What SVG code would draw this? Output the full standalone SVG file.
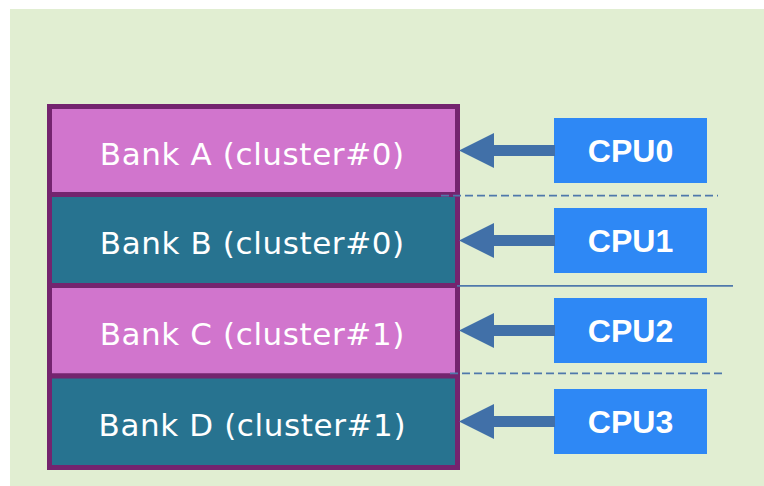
<svg xmlns="http://www.w3.org/2000/svg" width="764" height="486" viewBox="0 0 764 486">
  <style>
    .bank { stroke: #74246f; stroke-width: 5; }
    .bank-even { fill: #d175cd; }
    .bank-odd { fill: #277390; }
    .bank-label { font-family: "DejaVu Sans", Verdana, sans-serif; font-size: 31px; letter-spacing: 0.6px; fill: #ffffff; text-anchor: middle; }
    .cpu { fill: #2e88f5; }
    .cpu-label { font-family: "Liberation Sans", Arial, sans-serif; font-weight: bold; font-size: 32px; fill: #ffffff; text-anchor: middle; }
    .arrow { fill: #4170a8; }
    .sep { stroke: #4f78ab; stroke-width: 1.7; fill: none; }
    .sep-dash { stroke-dasharray: 8 4; }
  </style>

  <!-- backdrop -->
  <rect x="10" y="9" width="754" height="477" fill="#e1eed2"/>

  <!-- memory banks -->
  <g id="bank-a">
    <rect class="bank bank-even" x="49.5" y="106.5" width="408" height="88"/>
    <text class="bank-label" x="252.3" y="164.5">Bank A (cluster#0)</text>
  </g>
  <g id="bank-b">
    <rect class="bank bank-odd" x="49.5" y="194.5" width="408" height="91"/>
    <text class="bank-label" x="252.3" y="254">Bank B (cluster#0)</text>
  </g>
  <g id="bank-c">
    <rect class="bank bank-even" x="49.5" y="285.5" width="408" height="90.5"/>
    <text class="bank-label" x="252.3" y="344.5">Bank C (cluster#1)</text>
  </g>
  <g id="bank-d">
    <rect class="bank bank-odd" x="49.5" y="376" width="408" height="91.5"/>
    <text class="bank-label" x="252.3" y="436">Bank D (cluster#1)</text>
  </g>

  <!-- processors -->
  <g id="cpu0">
    <rect class="cpu" x="554" y="118" width="153" height="65"/>
    <text class="cpu-label" x="630.5" y="161.7">CPU0</text>
  </g>
  <g id="cpu1">
    <rect class="cpu" x="554" y="208" width="153" height="65"/>
    <text class="cpu-label" x="630.5" y="251.7">CPU1</text>
  </g>
  <g id="cpu2">
    <rect class="cpu" x="554" y="298" width="153" height="65"/>
    <text class="cpu-label" x="630.5" y="341.7">CPU2</text>
  </g>
  <g id="cpu3">
    <rect class="cpu" x="554" y="389" width="153" height="65"/>
    <text class="cpu-label" x="630.5" y="432.7">CPU3</text>
  </g>

  <!-- access arrows and cluster separators -->
  <g id="connectors">
    <polygon class="arrow" points="459,150.5 494,133 494,145 555,145 555,156 494,156 494,168"/>
    <polygon class="arrow" points="459,240.5 494,223 494,235 555,235 555,246 494,246 494,258"/>
    <polygon class="arrow" points="459,330.5 494,313 494,325 555,325 555,336 494,336 494,348"/>
    <polygon class="arrow" points="459,421.5 494,404 494,416 555,416 555,427 494,427 494,439"/>

    <line class="sep sep-dash" x1="441" y1="195.7" x2="718" y2="195.7"/>
    <line class="sep" x1="457" y1="285.8" x2="733" y2="285.8"/>
    <line class="sep sep-dash" x1="450" y1="373.3" x2="726" y2="373.3"/>
  </g>
</svg>
